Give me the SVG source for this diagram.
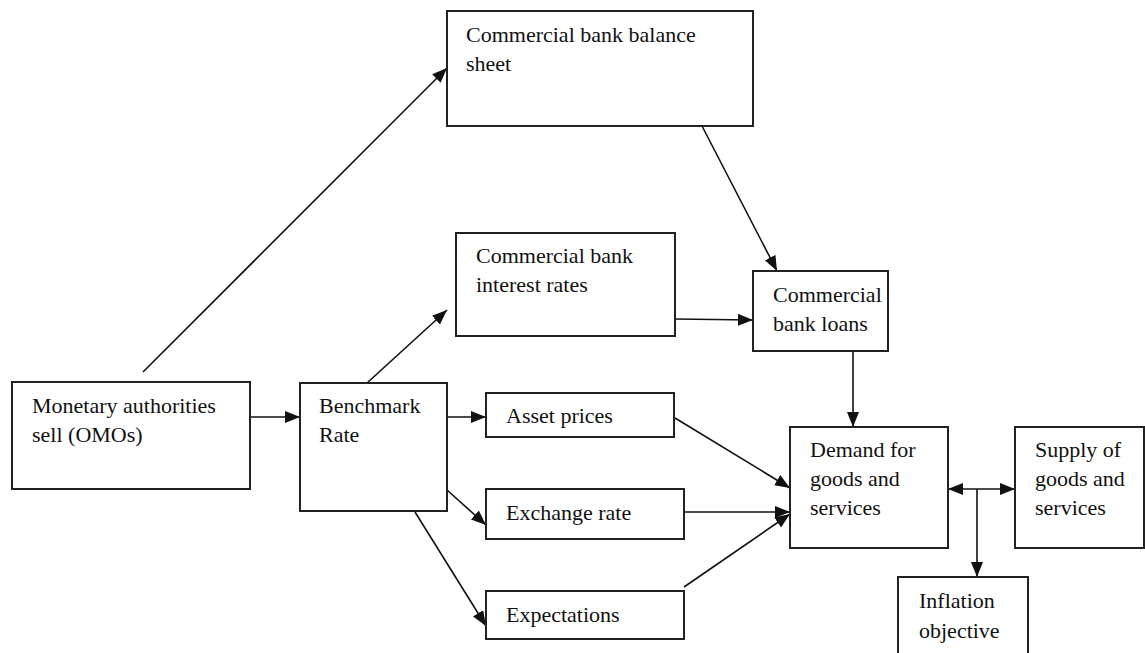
<svg xmlns="http://www.w3.org/2000/svg" width="1145" height="653" viewBox="0 0 1145 653">
<style>
.box{fill:#fff;stroke:#222;stroke-width:2}
.t{font-family:"Liberation Serif","Times New Roman",serif;font-size:22px;fill:#111}
.c{stroke:#111;stroke-width:1.6;fill:none}
</style>
<defs>
<marker id="ah" markerUnits="userSpaceOnUse" markerWidth="15" markerHeight="12" refX="15" refY="6" orient="auto-start-reverse">
<path d="M0,0 L15,6 L0,12 z" fill="#111"/>
</marker>
</defs>
<rect width="1145" height="653" fill="#fff"/>
<g id="connectors">
<line class="c" x1="250" y1="417" x2="300" y2="417" marker-end="url(#ah)"/>
<line class="c" x1="143" y1="372" x2="447" y2="68" marker-end="url(#ah)"/>
<line class="c" x1="367" y1="383" x2="447" y2="310" marker-end="url(#ah)"/>
<line class="c" x1="447" y1="417" x2="486" y2="417" marker-end="url(#ah)"/>
<line class="c" x1="447" y1="490" x2="486" y2="525" marker-end="url(#ah)"/>
<line class="c" x1="415" y1="512" x2="486" y2="626" marker-end="url(#ah)"/>
<line class="c" x1="702" y1="126" x2="777" y2="271" marker-end="url(#ah)"/>
<line class="c" x1="675" y1="319" x2="753" y2="320" marker-end="url(#ah)"/>
<line class="c" x1="853" y1="351" x2="853" y2="427" marker-end="url(#ah)"/>
<line class="c" x1="675" y1="418" x2="790" y2="488" marker-end="url(#ah)"/>
<line class="c" x1="684" y1="512" x2="790" y2="512" marker-end="url(#ah)"/>
<line class="c" x1="684" y1="587" x2="790" y2="514" marker-end="url(#ah)"/>
<line class="c" x1="948" y1="489" x2="1015" y2="489" marker-start="url(#ah)" marker-end="url(#ah)"/>
<line class="c" x1="977" y1="489" x2="977" y2="577" marker-end="url(#ah)"/>
</g>
<g id="monetary"><rect class="box" x="12" y="382" width="238" height="107"/><text class="t" x="32" y="413">Monetary authorities</text><text class="t" x="32" y="442">sell (OMOs)</text></g>
<g id="benchmark"><rect class="box" x="300" y="383" width="147" height="128"/><text class="t" x="319" y="413">Benchmark</text><text class="t" x="319" y="442">Rate</text></g>
<g id="balance"><rect class="box" x="447" y="11" width="306" height="115"/><text class="t" x="466" y="42">Commercial bank balance</text><text class="t" x="466" y="71">sheet</text></g>
<g id="interest"><rect class="box" x="456" y="233" width="219" height="103"/><text class="t" x="476" y="263">Commercial bank</text><text class="t" x="476" y="292">interest rates</text></g>
<g id="loans"><rect class="box" x="753" y="271" width="135" height="80"/><text class="t" x="773" y="302">Commercial</text><text class="t" x="773" y="331">bank loans</text></g>
<g id="asset"><rect class="box" x="486" y="393" width="188" height="44"/><text class="t" x="506" y="423">Asset prices</text></g>
<g id="exchange"><rect class="box" x="486" y="489" width="198" height="50"/><text class="t" x="506" y="520">Exchange rate</text></g>
<g id="expectations"><rect class="box" x="486" y="591" width="198" height="48"/><text class="t" x="506" y="622">Expectations</text></g>
<g id="demand"><rect class="box" x="790" y="427" width="158" height="121"/><text class="t" x="810" y="457">Demand for</text><text class="t" x="810" y="486">goods and</text><text class="t" x="810" y="515">services</text></g>
<g id="supply"><rect class="box" x="1015" y="427" width="129" height="121"/><text class="t" x="1035" y="457">Supply of</text><text class="t" x="1035" y="486">goods and</text><text class="t" x="1035" y="515">services</text></g>
<g id="inflation"><rect class="box" x="898" y="577" width="130" height="90"/><text class="t" x="919" y="608">Inflation</text><text class="t" x="919" y="638">objective</text></g>
</svg>
